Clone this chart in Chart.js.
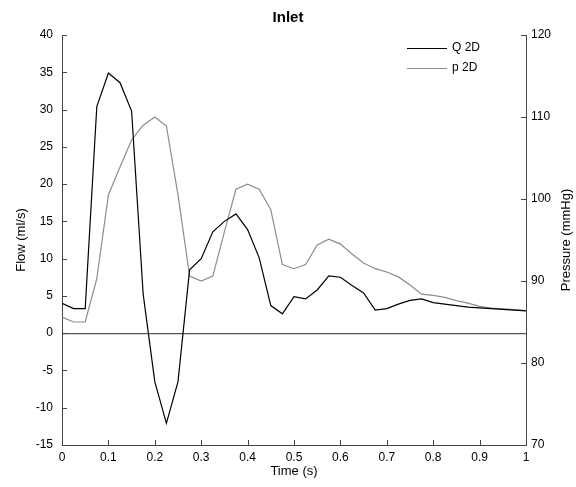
<!DOCTYPE html>
<html>
<head>
<meta charset="utf-8">
<script src="https://cdn.jsdelivr.net/npm/chart.js@4"></script>
<style>
  html, body { margin: 0; padding: 0; background: #fff; }
  canvas { display: block; }
</style>
</head>
<body>
<canvas id="inletChart" width="576" height="487"></canvas>
<script>
const times = [0, 0.025, 0.05, 0.075, 0.1, 0.125, 0.15, 0.175, 0.2, 0.225,
  0.25, 0.275, 0.3, 0.325, 0.35, 0.375, 0.4, 0.425, 0.45, 0.475,
  0.5, 0.525, 0.55, 0.575, 0.6, 0.625, 0.65, 0.675, 0.7, 0.725,
  0.75, 0.775, 0.8, 0.825, 0.85, 0.875, 0.9, 0.925, 0.95, 0.975, 1];

// flow (ml/s), left axis
const flowQ = [4.0, 3.3, 3.3, 30.4, 34.9, 33.6, 29.8, 5.2, -6.5, -12.1,
  -6.5, 8.5, 10.0, 13.6, 15.0, 16.0, 13.9, 10.1, 3.7, 2.6,
  4.9, 4.6, 5.8, 7.7, 7.5, 6.4, 5.4, 3.1, 3.3, 3.9,
  4.4, 4.6, 4.1, 3.9, 3.7, 3.5, 3.4, 3.3, 3.2, 3.1, 3.0];

// pressure (mmHg), right axis
const pressureP = [85.6, 85.0, 85.0, 90.3, 100.5, 103.9, 107.2, 109.0, 110.0, 108.9,
  100.5, 90.6, 90.0, 90.6, 96.0, 101.2, 101.8, 101.2, 98.7, 92.0,
  91.5, 92.0, 94.4, 95.1, 94.5, 93.3, 92.2, 91.5, 91.1, 90.5,
  89.5, 88.4, 88.25, 88.0, 87.6, 87.3, 86.9, 86.7, 86.6, 86.5, 86.4];

const timeTicks = [0, 0.1, 0.2, 0.3, 0.4, 0.5, 0.6, 0.7, 0.8, 0.9, 1];
const flowTicks = [-15, -10, -5, 0, 5, 10, 15, 20, 25, 30, 35, 40];
const pressureTicks = [70, 80, 90, 100, 110, 120];

const FONT = "'Liberation Sans', Arial, Helvetica, sans-serif";
const AXIS_COLOR = "#444";

const toPoints = (ys) => times.map((t, i) => ({ x: t, y: ys[i] }));
const fixedTicks = (list) => (scale) => {
  scale.ticks = list.map((v) => ({ value: v }));
};

// MATLAB style ticks pointing into the plot
const inwardTicks = {
  id: "inwardTicks",
  afterDraw(chart) {
    const { ctx, scales } = chart;
    const len = 5;
    ctx.save();
    ctx.strokeStyle = AXIS_COLOR;
    ctx.lineWidth = 1;
    ctx.beginPath();
    scales.x.ticks.forEach((t) => {
      const px = Math.round(scales.x.getPixelForValue(t.value)) + 0.5;
      ctx.moveTo(px, scales.x.top);
      ctx.lineTo(px, scales.x.top - len);
    });
    scales.y.ticks.forEach((t) => {
      const py = Math.round(scales.y.getPixelForValue(t.value)) + 0.5;
      ctx.moveTo(scales.y.right, py);
      ctx.lineTo(scales.y.right + len, py);
    });
    scales.y1.ticks.forEach((t) => {
      const py = Math.round(scales.y1.getPixelForValue(t.value)) + 0.5;
      ctx.moveTo(scales.y1.left, py);
      ctx.lineTo(scales.y1.left - len, py);
    });
    ctx.stroke();
    ctx.restore();
  },
};

// right axis title reads bottom-to-top like the left one
const rightTitle = {
  id: "rightTitle",
  afterDraw(chart) {
    const { ctx, chartArea } = chart;
    ctx.save();
    ctx.font = "13px " + FONT;
    ctx.fillStyle = "#000";
    ctx.textAlign = "center";
    ctx.textBaseline = "middle";
    ctx.translate(566, (chartArea.top + chartArea.bottom) / 2);
    ctx.rotate(-Math.PI / 2);
    ctx.fillText("Pressure (mmHg)", 0, 0);
    ctx.restore();
  },
};

// legend box in the upper right corner
const cornerLegend = {
  id: "cornerLegend",
  afterDraw(chart) {
    const { ctx } = chart;
    const rows = [48, 68];
    ctx.save();
    ctx.font = "12px " + FONT;
    ctx.textBaseline = "middle";
    chart.data.datasets.forEach((ds, i) => {
      const y = rows[i];
      ctx.strokeStyle = ds.borderColor;
      ctx.lineWidth = ds.borderWidth;
      ctx.beginPath();
      ctx.moveTo(407, y + 0.5);
      ctx.lineTo(447, y + 0.5);
      ctx.stroke();
      ctx.fillStyle = "#000";
      ctx.fillText(ds.label, 452, y);
    });
    ctx.restore();
  },
};

new Chart(document.getElementById("inletChart"), {
  type: "line",
  data: {
    datasets: [
      {
        label: "Q 2D",
        data: toPoints(flowQ),
        yAxisID: "y",
        borderColor: "#000",
        borderWidth: 1.2,
        pointRadius: 0,
        tension: 0,
      },
      {
        label: "p 2D",
        data: toPoints(pressureP),
        yAxisID: "y1",
        borderColor: "#8c8c8c",
        borderWidth: 1.2,
        pointRadius: 0,
        tension: 0,
      },
    ],
  },
  options: {
    responsive: false,
    animation: false,
    layout: { padding: 0 },
    plugins: {
      legend: { display: false },
      tooltip: { enabled: false },
      title: {
        display: true,
        text: "Inlet",
        color: "#000",
        font: { family: FONT, size: 15, weight: "bold", lineHeight: 1.2 },
        padding: { top: 9, bottom: 8 },
      },
    },
    scales: {
      x: {
        type: "linear",
        min: 0,
        max: 1,
        afterBuildTicks: fixedTicks(timeTicks),
        afterFit: (scale) => { scale.height = 42; },
        grid: { display: false, drawTicks: false },
        border: { display: true, color: AXIS_COLOR, width: 1 },
        ticks: {
          color: "#000",
          padding: 5,
          maxRotation: 0,
          font: { family: FONT, size: 12 },
          callback: (v) => String(v),
        },
        title: {
          display: true,
          text: "Time (s)",
          color: "#000",
          font: { family: FONT, size: 13, lineHeight: 1.2 },
          padding: { top: 0, bottom: 8 },
        },
      },
      y: {
        position: "left",
        min: -15,
        max: 40,
        afterBuildTicks: fixedTicks(flowTicks),
        afterFit: (scale) => { scale.width = 62; },
        grid: {
          display: true,
          drawTicks: false,
          drawOnChartArea: true,
          color: (c) => (c.tick && c.tick.value === 0 ? "#555" : "rgba(0,0,0,0)"),
          lineWidth: 1.2,
        },
        border: { display: true, color: AXIS_COLOR, width: 1 },
        ticks: {
          color: "#000",
          padding: 9,
          font: { family: FONT, size: 12 },
        },
        title: {
          display: true,
          text: "Flow (ml/s)",
          color: "#000",
          font: { family: FONT, size: 13, lineHeight: 1.2 },
          padding: { top: 14, bottom: 0 },
        },
      },
      y1: {
        position: "right",
        min: 70,
        max: 120,
        afterBuildTicks: fixedTicks(pressureTicks),
        afterFit: (scale) => { scale.width = 50; },
        grid: { display: false, drawTicks: false },
        border: { display: true, color: AXIS_COLOR, width: 1 },
        ticks: {
          color: "#000",
          padding: 5,
          font: { family: FONT, size: 12 },
        },
        title: { display: false },
      },
    },
  },
  plugins: [inwardTicks, rightTitle, cornerLegend],
});
</script>
</body>
</html>
